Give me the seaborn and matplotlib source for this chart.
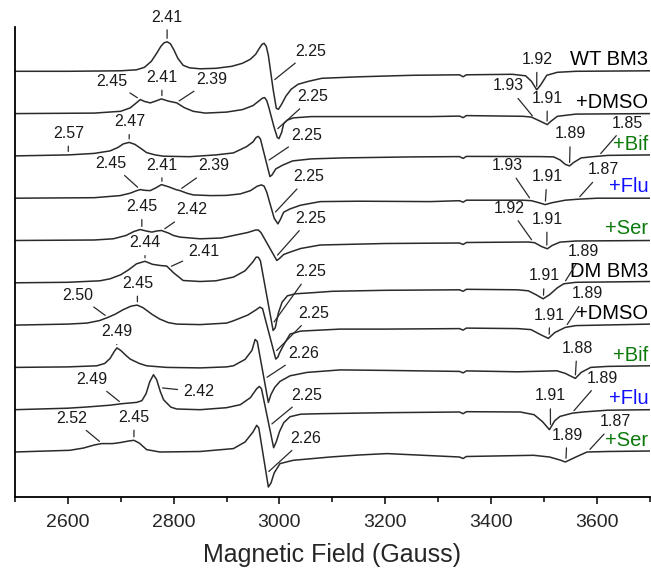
import numpy as np
import pandas as pd
import matplotlib
matplotlib.use("Agg")
import matplotlib.pyplot as plt
from matplotlib.ticker import MultipleLocator
import seaborn as sns

# ------------------ DATA ------------------ #
# field in Gauss, signal in arbitrary units (0 = baseline at 2500 G)
wt_field = [2500, 2600, 2700, 2730, 2745, 2758, 2768, 2776, 2782, 2788, 2794, 2800, 2808, 2818, 2830, 2850, 2880, 2910, 2930, 2945, 2955, 2962, 2967, 2971, 2975, 2979, 2988, 2994, 2998, 3004, 3012, 3022, 3035, 3055, 3080, 3150, 3250, 3340, 3347, 3353, 3440, 3465, 3476, 3486, 3493, 3505, 3525, 3560, 3700]
wt_signal = [0, 0, 0.5, 1.5, 4, 10, 18, 25, 28.5, 29.5, 27.5, 22, 13, 6, 3.5, 2.5, 3, 5, 8, 12, 17, 23, 27, 28, 25, 16, -18, -37, -38, -33, -25, -18, -13, -10, -7, -5.5, -4, -3.5, -5.5, -3.5, -3, -4.5, -10, -18.5, -14, -4, -1, 0, 0.5]

wt_dmso_field = [2500, 2650, 2700, 2718, 2728, 2737, 2746, 2756, 2766, 2777, 2790, 2806, 2820, 2837, 2860, 2900, 2930, 2950, 2962, 2968, 2972, 2976, 2980, 2990, 2996, 2999, 3004, 3008, 3015, 3026, 3060, 3150, 3285, 3340, 3347, 3353, 3460, 3476, 3493, 3506, 3512, 3525, 3560, 3700]
wt_dmso_signal = [0, 0.5, 2.3, 5.7, 10, 14, 12, 10.7, 12.5, 14.7, 12.5, 10.7, 6, 2.3, 0.5, 1.5, 4, 8, 13, 15.5, 16, 13, 6, -14, -24, -25, -19, -10, -6.5, -4.3, -3, -3, -3, -2.5, -4, -2, -2.7, -3.5, -7.7, -11, -8, -2.7, -0.5, 0]

wt_bif_field = [2500, 2602, 2650, 2680, 2695, 2705, 2716, 2727, 2738, 2749, 2765, 2781, 2830, 2880, 2913, 2938, 2950, 2956, 2960, 2964, 2982, 2986, 2993, 3000, 3007, 3025, 3060, 3120, 3250, 3340, 3347, 3353, 3493, 3518, 3530, 3540, 3548, 3556, 3570, 3594, 3620, 3700]
wt_bif_signal = [0, 1, 2.5, 5, 8.5, 12, 13.5, 11.5, 7.5, 3.3, 1, -0.3, -0.8, 1, 3, 9.3, 14, 18.5, 19.5, 17, -20.7, -19, -13, -11, -9, -5, -3, -2, -1, -0.7, -2.5, -0.5, -0.7, -1, -4, -8.5, -10, -6.5, -2, -0.7, 0.5, 1]

wt_flu_field = [2500, 2650, 2699, 2718, 2730, 2737, 2747, 2756, 2767, 2777, 2790, 2805, 2812, 2825, 2837, 2870, 2900, 2926, 2945, 2958, 2966, 2971, 2976, 2990, 2997, 3001, 3008, 3020, 3040, 3077, 3150, 3285, 3340, 3347, 3353, 3460, 3476, 3490, 3502, 3515, 3540, 3564, 3600, 3700]
wt_flu_signal = [0, 0.5, 2.6, 5, 7.5, 8.6, 7.8, 7.6, 10.5, 13.6, 11.5, 8.5, 7.6, 5, 3.3, 2.6, 2.8, 4.3, 7.5, 12, 13.3, 12, 6, -20, -25.7, -22, -14, -10.7, -7, -3.4, -3, -3.4, -2.5, -4, -2, -2, -2.5, -4.5, -6.4, -4.5, -2, -1, 0, 0]

wt_ser_field = [2500, 2650, 2686, 2710, 2725, 2737, 2748, 2759, 2768, 2777, 2790, 2800, 2812, 2850, 2890, 2913, 2940, 2955, 2960, 2965, 2995, 3000, 3008, 3020, 3040, 3077, 3200, 3340, 3347, 3353, 3470, 3482, 3495, 3506, 3515, 3530, 3560, 3700]
wt_ser_signal = [0, 0.5, 1.7, 5, 9, 11, 9.5, 8.4, 9.5, 10, 7.5, 5, 3.4, 1.7, 2.5, 5, 8, 10.5, 10.5, 8, -20, -18, -14, -11.6, -8, -4.5, -3, -2.5, -4, -2, -1.5, -2.2, -6, -8.3, -5, -1.6, -0.5, 0]

dm_field = [2500, 2600, 2661, 2680, 2700, 2715, 2730, 2746, 2760, 2775, 2787, 2800, 2818, 2850, 2880, 2913, 2935, 2950, 2956, 2960, 2964, 2988, 2992, 2998, 3005, 3015, 3030, 3060, 3100, 3200, 3340, 3347, 3353, 3450, 3470, 3485, 3498, 3510, 3525, 3537, 3560, 3700]
dm_signal = [0, 0.5, 2, 4, 8, 13, 19, 21.5, 18.5, 17.3, 16.7, 10, 2.3, 1.3, 2, 5.7, 12, 21, 25.7, 25.5, 22, -47.7, -45, -30, -19.3, -13, -11, -10, -8.5, -7.5, -7, -8.5, -6.5, -7, -8, -12, -16, -12, -5, -1, 0.5, 1.3]

dm_dmso_field = [2500, 2600, 2636, 2660, 2676, 2690, 2705, 2720, 2731, 2742, 2760, 2774, 2790, 2806, 2850, 2900, 2913, 2940, 2955, 2963, 2968, 2993, 2997, 3000, 3007, 3020, 3040, 3077, 3115, 3200, 3340, 3347, 3353, 3450, 3475, 3495, 3508, 3520, 3540, 3560, 3700]
dm_dmso_signal = [0, 1, 2, 4.5, 7.7, 11, 15.5, 19, 20, 17.5, 10.5, 6, 2.5, 1, 0.5, 2, 4.3, 10, 15, 18, 16.5, -34, -32, -28, -20.7, -9, -6, -5, -4, -4, -3.5, -5, -3, -3.5, -4.5, -10, -13.3, -7.5, -2.3, -0.5, 1]

dm_bif_field = [2500, 2600, 2655, 2670, 2680, 2688, 2693, 2700, 2710, 2718, 2735, 2749, 2787, 2850, 2900, 2913, 2935, 2948, 2954, 2958, 2979, 2984, 2991, 3001, 3020, 3052, 3115, 3200, 3340, 3347, 3353, 3450, 3524, 3540, 3559, 3570, 3588, 3620, 3700]
dm_bif_signal = [0, 0.5, 1.6, 4, 9, 16, 19.5, 17, 12, 8.3, 4, 1.6, 0, -0.5, 0.5, 1.6, 8, 17, 28, 26, -35, -27, -20, -14, -8.4, -5, -2.5, -3, -4, -5.5, -3.5, -4.4, -3.4, -6, -11, -5, 0, 1, 1.6]

dm_flu_field = [2500, 2600, 2636, 2680, 2702, 2730, 2740, 2748, 2755, 2762, 2768, 2775, 2781, 2787, 2795, 2806, 2850, 2900, 2926, 2945, 2957, 2962, 2966, 2989, 2994, 3000, 3008, 3020, 3040, 3077, 3200, 3340, 3347, 3353, 3455, 3481, 3497, 3510, 3520, 3530, 3553, 3573, 3620, 3700]
dm_flu_signal = [0, 1.5, 2.7, 4.5, 6, 7.3, 9, 16, 28, 35, 30, 18, 10, 6.7, 2.5, 0.7, 0, 2, 5, 12, 21, 23.3, 21, -38, -32, -22, -13, -7, -4.5, -4, -3, -2.3, -4, -2, -2.3, -5, -12, -20, -11, -6.7, -3.5, -2.3, -0.5, 0]

dm_ser_field = [2500, 2604, 2630, 2650, 2664, 2685, 2700, 2715, 2725, 2735, 2749, 2774, 2850, 2913, 2935, 2950, 2957, 2961, 2979, 2984, 2990, 3001, 3026, 3096, 3150, 3203, 3300, 3340, 3347, 3353, 3480, 3510, 3530, 3540, 3560, 3581, 3620, 3700]
dm_ser_signal = [0, 1.7, 4, 7, 8.4, 8.4, 9.5, 11, 11.7, 9, 2.4, 0, 0.5, 3.4, 10, 20, 26.7, 24, -35, -31, -21, -11.6, -8.3, -5, -3, -1.6, -4, -5, -6.5, -4.5, -3.3, -5, -8, -10, -5, 0, 0.5, 1]

fields = [wt_field, wt_dmso_field, wt_bif_field, wt_flu_field, wt_ser_field,
          dm_field, dm_dmso_field, dm_bif_field, dm_flu_field, dm_ser_field]
signals = [wt_signal, wt_dmso_signal, wt_bif_signal, wt_flu_signal, wt_ser_signal,
           dm_signal, dm_dmso_signal, dm_bif_signal, dm_flu_signal, dm_ser_signal]

sample_names = ["WT BM3", "+DMSO", "+Bif", "+Flu", "+Ser",
                "DM BM3", "+DMSO", "+Bif", "+Flu", "+Ser"]

# g-value labels: (trace, label, field of the feature)
g_trace = [0, 0, 0, 1, 1, 1, 1, 1, 1, 2, 2, 2, 2, 2, 3, 3, 3, 3, 3, 3, 3, 4, 4, 4, 4, 4,
           5, 5, 5, 5, 5, 6, 6, 6, 6, 6, 7, 7, 7, 8, 8, 8, 8, 8, 9, 9, 9, 9, 9]
g_label = ["2.41", "2.25", "1.92",
           "2.45", "2.41", "2.39", "2.25", "1.93", "1.91",
           "2.57", "2.47", "2.25", "1.89", "1.85",
           "2.45", "2.41", "2.39", "2.25", "1.93", "1.91", "1.87",
           "2.45", "2.42", "2.25", "1.92", "1.91",
           "2.44", "2.41", "2.25", "1.91", "1.89",
           "2.50", "2.45", "2.25", "1.91", "1.89",
           "2.49", "2.26", "1.88",
           "2.49", "2.42", "2.25", "1.91", "1.89",
           "2.52", "2.45", "2.26", "1.89", "1.87"]
g_field = [2787.7, 2986, 3486,
           2737, 2778, 2805, 2992, 3482, 3505.5,
           2601, 2716, 2975, 3548, 3602.5,
           2737, 2778, 2810, 2988, 3476, 3502, 3563,
           2740, 2778, 2992, 3480, 3505,
           2746, 2790, 2986, 3498.5, 3537,
           2676, 2731.6, 2990, 3509.5, 3540,
           2692.6, 2971, 3558.7,
           2702.6, 2772.6, 2980.6, 3512, 3552,
           2665, 2725, 2975, 3541, 3582]

# ------------------ LAYOUT ------------------ #
spacing = 42.3
# where each g label sits: (field, height above its trace baseline)
g_text_pos = [(2787.7, 54.3), (3058.1, 20.3), (3486.2, 11.8),
              (2682.8, 32.6), (2777.7, 36.3), (2872.8, 34.3), (3063.7, 16.9), (3431.4, 27.6), (3506.1, 15.3),
              (2601.1, 22.6), (2716.4, 34.2), (3050.5, 20.9), (3549.5, 21.9), (3656.7, 32.6),
              (2681.9, 34.9), (2777.7, 33.2), (2875.2, 32.2), (3054.8, 21.5), (3431.0, 32.5), (3505.5, 21.5), (3612.5, 28.2),
              (2739.9, 33.8), (2834.4, 30.5), (3058.1, 22.2), (3434.2, 32.2), (3505.5, 21.2),
              (2746.1, 40.1), (2856.3, 31.1), (3058.1, 11.1), (3500.4, 6.8), (3574.7, 31.1),
              (2618.2, 30.1), (2731.6, 41.8), (3064.3, 11.8), (3510.4, 10.1), (3581.1, 31.1),
              (2692.6, 35.7), (3045.4, 14.1), (3562.2, 19.1),
              (2645.4, 30.4), (2846.9, 18.0), (3051.8, 14.7), (3511.7, 13.7), (3609.5, 31.4),
              (2607.5, 33.7), (2725.3, 34.7), (3048.6, 13.7), (3543.3, 17.0), (3634.6, 30.3)]
name_colors = ["black", "black", "#0b7a0b", "#1010ff", "#0b7a0b",
               "black", "black", "#0b7a0b", "#1010ff", "#0b7a0b"]

# ------------------ PLOT ------------------ #
sns.set_theme(style="ticks")
plt.rcParams['font.family'] = ['Liberation Sans', 'DejaVu Sans']

rows = []
for k, (f, s) in enumerate(zip(fields, signals)):
    for x, y in zip(f, s):
        rows.append({"trace": k, "field": x, "y": y - spacing * k})
df = pd.DataFrame(rows)

fig = plt.figure(figsize=(6.51, 5.72), dpi=100)
ax = fig.add_axes([14.8 / 651, 75 / 572, 635.2 / 651, 470 / 572])

sns.lineplot(data=df, x="field", y="y", units="trace", estimator=None, sort=False,
             color="#2a2a2a", linewidth=1.1, legend=False, ax=ax)

for k, name in enumerate(sample_names):
    ax.text(3697, -spacing * k + 11.5, name, ha="right", va="center",
            fontsize=14.5, color=name_colors[k])

for t, lab, fx, (tx, th) in zip(g_trace, g_label, g_field, g_text_pos):
    fy = np.interp(fx, fields[t], signals[t]) - spacing * t
    ax.annotate(lab, xy=(fx, fy), xytext=(tx, th - spacing * t),
                ha="center", va="center", fontsize=11.5, color="#1a1a1a",
                arrowprops=dict(arrowstyle="-", color="#2a2a2a", lw=0.9,
                                shrinkA=1.5, shrinkB=2.5))

ax.set_xlim(2500, 3700)
ax.set_ylim(-425.7, 44.3)
ax.set_yticks([])
ax.set_ylabel("")
ax.set_xticks(range(2600, 3601, 200))
ax.xaxis.set_minor_locator(MultipleLocator(100))
ax.tick_params(axis="x", which="major", direction="out", length=5, width=1.1,
               labelsize=14, pad=7, color="black")
ax.tick_params(axis="x", which="minor", direction="out", length=3.5, width=1.1, color="black")
ax.set_xlabel("Magnetic Field (Gauss)", fontsize=18, labelpad=9)
for side in ["top", "right"]:
    ax.spines[side].set_visible(False)
for side in ["left", "bottom"]:
    ax.spines[side].set_linewidth(1.3)
    ax.spines[side].set_color("black")

fig.savefig("out.png", dpi=100)
